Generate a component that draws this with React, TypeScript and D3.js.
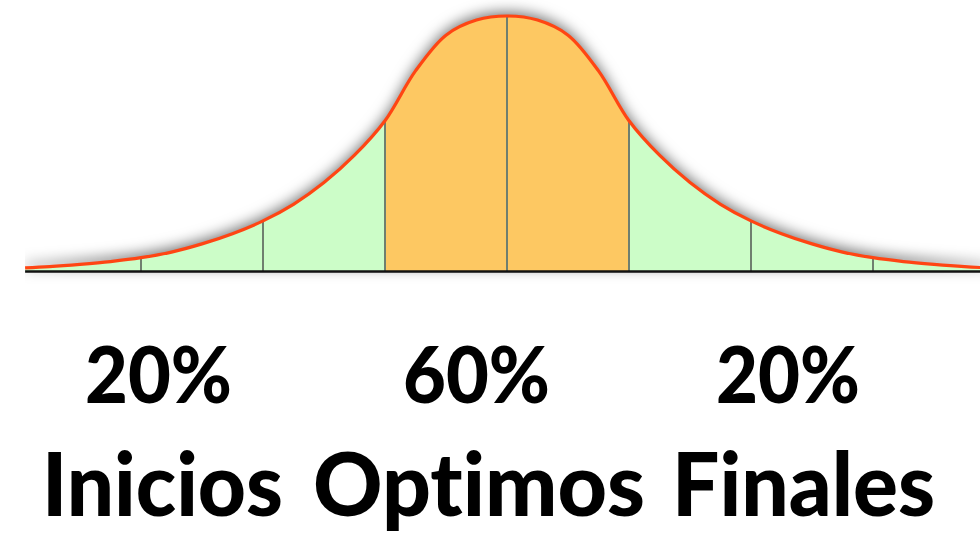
import React from 'react';
import * as d3 from 'd3';

// curve: offset from centre (in bands) and height (% of peak)
const offsets = [0, 0.25, 0.5, 0.75, 1, 1.25, 1.5, 1.75, 2, 2.25, 2.5, 2.75, 3, 3.25, 3.5, 3.75, 3.95];
const heights = [100, 98.4, 92.5, 78.5, 59, 45.5, 34.8, 26.3, 19.8, 14.8, 10.8, 7.6, 5.4, 3.9, 2.8, 1.9, 1.4];

const dividers = [-3, -2, -1, 0, 1, 2, 3];
const percentLabels = ['20%', '60%', '20%'];
const groupLabels = ['Inicios', 'Optimos', 'Finales'];

const W = 980;
const H = 534;

// symmetric curve from the half that was read
const points: [number, number][] = [
  ...offsets.slice(1).map((o, i) => [-o, heights[i + 1]] as [number, number]).reverse(),
  ...offsets.map((o, i) => [o, heights[i]] as [number, number]),
];

const App: React.FC = () => {
  const base = 271.5;
  const x = d3.scaleLinear().domain([0, 1]).range([507, 629]);
  const y = d3.scaleLinear().domain([0, 100]).range([base, 16]);

  const curve = d3.curveCatmullRom.alpha(0.5);
  const area = d3.area<[number, number]>()
    .x(d => x(d[0]))
    .y0(base)
    .y1(d => y(d[1]))
    .curve(curve);
  const line = d3.line<[number, number]>()
    .x(d => x(d[0]))
    .y(d => y(d[1]))
    .curve(curve);

  const hAt = (u: number) => {
    const p = points.find(pt => Math.abs(pt[0] - u) < 1e-6);
    return p ? p[1] : 0;
  };

  const leftEdge = x(-3.95);

  // text layout
  const pctPos = [{ x: 85, w: 147 }, { x: 403, w: 147 }, { x: 716, w: 144 }];
  const grpPos = [{ x: 42, w: 241 }, { x: 313, w: 332 }, { x: 672, w: 263 }];

  return (
    <svg width={W} height={H} style={{ position: 'fixed', left: 0, top: 0, background: '#fff' }}>
      <defs>
        <filter id="shadow" x="-10%" y="-30%" width="120%" height="160%">
          <feDropShadow dx="0" dy="-4" stdDeviation="7" floodColor="#000" floodOpacity="0.55" />
        </filter>
        <clipPath id="mid">
          <rect x={x(-1)} y={0} width={x(1) - x(-1)} height={base} />
        </clipPath>
        <clipPath id="view">
          <rect x={leftEdge} y={0} width={W - leftEdge} height={H} />
        </clipPath>
      </defs>
      <g clipPath="url(#view)">
        <path d={area(points) || ''} fill="#ccfdc8" filter="url(#shadow)" />
        <path d={area(points) || ''} fill="#fdc862" clipPath="url(#mid)" />
        {dividers.map(u => (
          <line key={u} x1={x(u)} x2={x(u)} y1={base} y2={y(hAt(u))} stroke="#6f7f6f" strokeWidth={2} />
        ))}
        <line x1={leftEdge} x2={W} y1={base} y2={base} stroke="#111" strokeWidth={2.5} />
        <path d={line(points) || ''} fill="none" stroke="#ff4513" strokeWidth={3.2} />
      </g>
      <g fontFamily="Lato, 'Open Sans', sans-serif" fontWeight={900} fill="#000"
        style={{ fontVariantLigatures: 'none' }}>
        {percentLabels.map((t, i) => (
          <text key={'p' + i} x={pctPos[i].x} y={403} fontSize={78}
            textLength={pctPos[i].w} lengthAdjust="spacingAndGlyphs">{t}</text>
        ))}
        {groupLabels.map((t, i) => (
          <text key={'g' + i} x={grpPos[i].x} y={516} fontSize={88}
            textLength={grpPos[i].w} lengthAdjust="spacingAndGlyphs">{t}</text>
        ))}
      </g>
    </svg>
  );
};

export default App;
